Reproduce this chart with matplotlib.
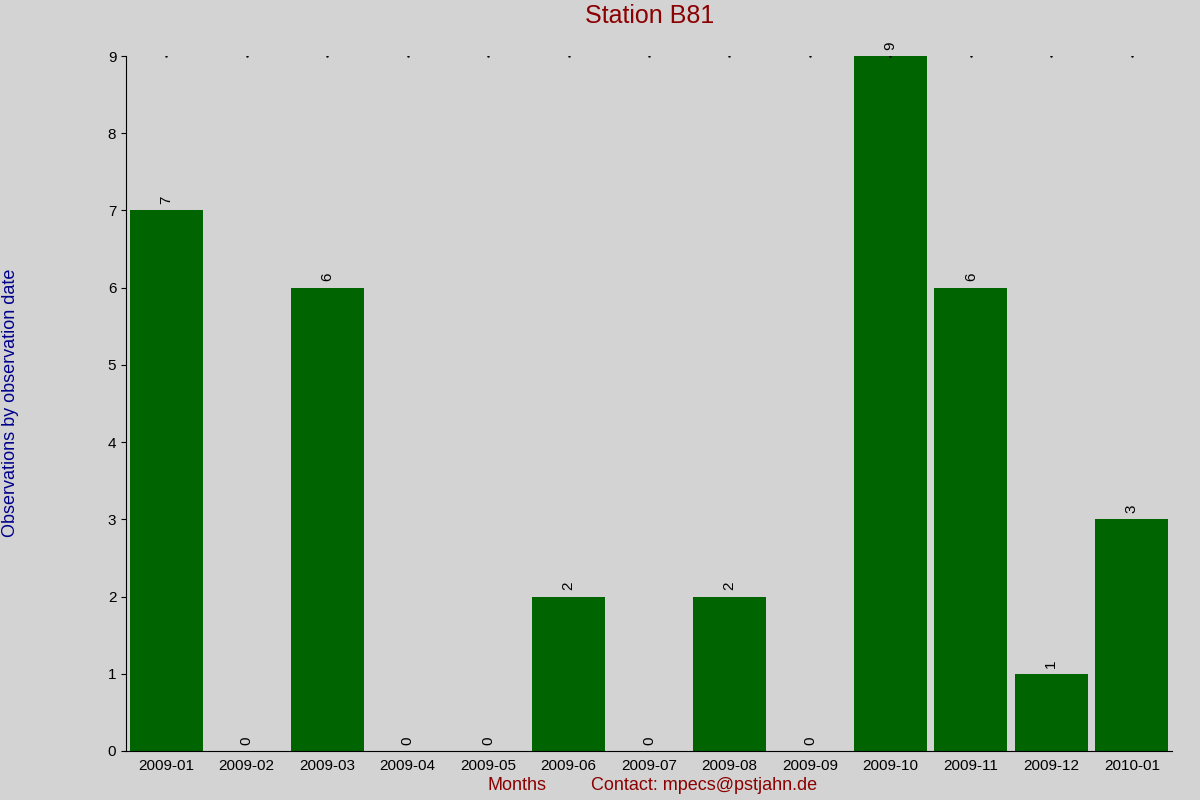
import matplotlib
matplotlib.use("Agg")
import matplotlib.pyplot as plt

months = ["2009-01","2009-02","2009-03","2009-04","2009-05","2009-06","2009-07",
          "2009-08","2009-09","2009-10","2009-11","2009-12","2010-01"]
counts = [7,0,6,0,0,2,0,2,0,9,6,1,3]

plt.rcParams['font.family'] = ['Liberation Sans', 'DejaVu Sans']
fig = plt.figure(figsize=(12,8), dpi=100, facecolor='#d3d3d3')
ax = fig.add_axes([126/1200, 1-751/800, (1172-126)/1200, (751-56)/800])
ax.set_facecolor('#d3d3d3')
x = list(range(len(months)))
ax.bar(x, counts, width=0.91, color='#006400')
for xi, c in zip(x, counts):
    ax.text(xi, c + 0.08, str(c), rotation=90, ha='center', va='bottom', fontsize=11)
ax.plot(x, [9]*len(x), linestyle='none', marker='.', markersize=1.5, color='black')
ax.set_xlim(-0.5, 12.5)
ax.set_ylim(0, 9)
ax.set_yticks(range(10))
ax.set_xticks(x)
ax.set_xticklabels(months)
ax.tick_params(axis='both', labelsize=11)
ax.tick_params(axis='x', length=0, pad=6)
for s in ['top', 'right']:
    ax.spines[s].set_visible(False)
fig.text(0.5417, 1-16/800, "Station B81", ha='center', va='center', fontsize=18, color='#8b0000')
fig.text(517/1200, 1-786/800, "Months", ha='center', va='center', fontsize=13, color='#8b0000')
fig.text(704/1200, 1-786/800, "Contact: mpecs@pstjahn.de", ha='center', va='center', fontsize=13, color='#8b0000')
fig.text(11/1200, 1-403/800, "Observations by observation date", rotation=90, ha='center', va='center', fontsize=13, color='#00008b')
fig.savefig("out.png", dpi=100, facecolor=fig.get_facecolor())
